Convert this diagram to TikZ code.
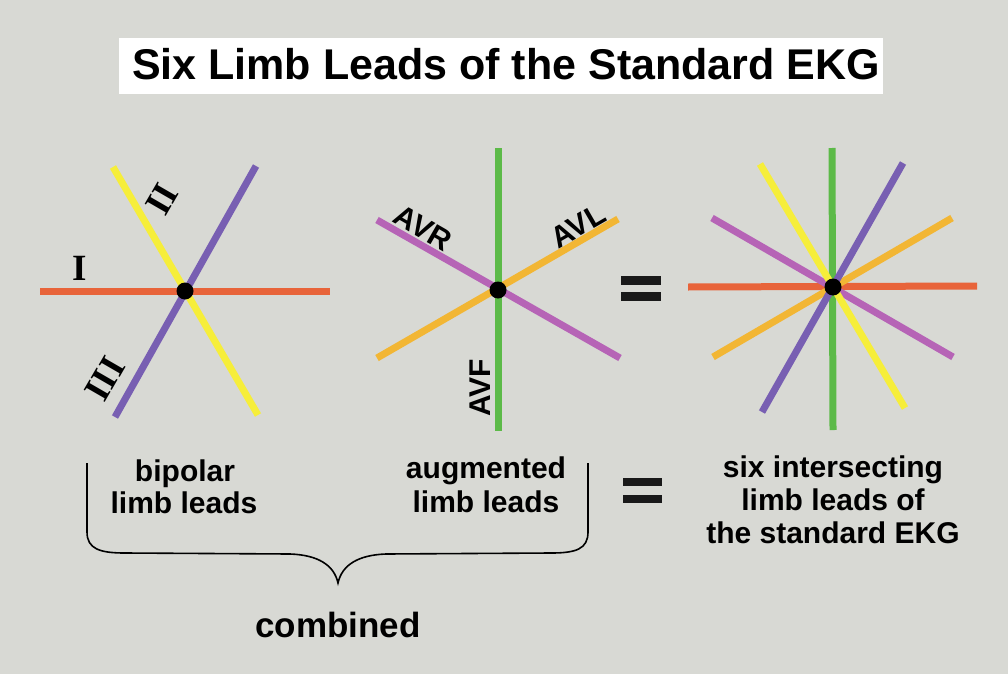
\documentclass[tikz,border=0pt]{standalone}
\usepackage{fontspec}
\setmainfont{Liberation Sans}
\newfontfamily\romanfont{Liberation Serif}
\definecolor{bg}{RGB}{216,217,212}
\definecolor{leadI}{RGB}{232,100,58}
\definecolor{leadII}{RGB}{120,95,178}
\definecolor{leadIII}{RGB}{246,238,58}
\definecolor{leadR}{RGB}{182,100,182}
\definecolor{leadL}{RGB}{242,182,52}
\definecolor{leadF}{RGB}{92,186,72}
\begin{document}
\begin{tikzpicture}[x=1pt,y=-1pt,
  lead/.style={line width=7pt},
  hub/.style={fill=black},
  lbl/.style={font=\fontsize{30}{33}\selectfont\bfseries, inner sep=0pt, anchor=base},
  axlbl/.style={font=\fontsize{30}{33}\selectfont\bfseries, inner sep=0pt},
  roman/.style={font=\fontsize{37}{39}\selectfont\romanfont\bfseries, inner sep=0pt},
  eqbar/.style={fill=black!90}]
\useasboundingbox (0,0) rectangle (1008,674);
\fill[bg] (0,0) rectangle (1008,674);
% title
\fill[white] (119,38) rectangle (883,94);
\node[inner sep=0pt, anchor=base, font=\fontsize{43}{45}\selectfont\bfseries] (title) at (506,80) {Six Limb Leads of the Standard EKG};
% ---- left: bipolar
\coordinate (L) at (185,291);
\draw[lead, leadI] (40,291) -- (330,291);
\draw[lead, leadIII] (113,167) -- (258,415);
\draw[lead, leadII] (256,166) -- (115,417);
\fill[hub] (L) circle[radius=8.5pt];
\node[roman] (tI) at (80,268) {I};
\node[roman, rotate=60] (tII) at (162,199) {II};
\node[roman, rotate=60] (tIII) at (105,379) {III};
% ---- middle: augmented
\coordinate (M) at (498,290);
\draw[lead, leadR] (377,220) -- (620,358);
\draw[lead, leadL] (377,358) -- (618,219);
\draw[lead, leadF] (498,148) -- (498,431);
\fill[hub] (M) circle[radius=8.5pt];
\node[axlbl, rotate=-30] (tAVR) at (423,228) {AVR};
\node[axlbl, rotate=30] (tAVL) at (578,226) {AVL};
\node[axlbl, rotate=90] (tAVF) at (480,388) {AVF};
% equals (top)
\fill[eqbar] (621,276) rectangle (661,285);
\fill[eqbar] (621,292) rectangle (661,301);
% ---- right: combined
\coordinate (R) at (833,287);
\draw[lead, leadF] (832,148) -- (833,430);
\draw[lead, leadI] (688,287) -- (977,286);
\draw[lead, leadR] (712,218) -- (953,357);
\draw[lead, leadL] (713,357) -- (952,218);
\draw[lead, leadIII] (760,164) -- (905,408);
\draw[lead, leadII] (903,163) -- (762,412);
\fill[hub] (R) circle[radius=8.5pt];
% ---- lower texts
\node[lbl] (b1) at (185,481) {bipolar};
\node[lbl] (b2) at (184,513) {limb leads};
\node[lbl] (a1) at (486,478) {augmented};
\node[lbl] (a2) at (486,512) {limb leads};
\node[lbl] (s1) at (833,477) {six intersecting};
\node[lbl] (s2) at (833,510) {limb leads of};
\node[lbl] (s3) at (833,543) {the standard EKG};
% equals (bottom)
\fill[eqbar] (623,478) rectangle (662,486);
\fill[eqbar] (623,495) rectangle (662,503);
% brace
\coordinate (brL) at (87,463);
\coordinate (brR) at (588,463);
\coordinate (brT) at (338,583);
\draw[line width=1.6pt] (brL) -- (87,532)
  .. controls (87,549) and (100,553) .. (125,553)
  -- (290,554) .. controls (318,555) and (334,565) .. (brT)
  .. controls (342,565) and (358,555) .. (386,554)
  -- (551,553) .. controls (576,553) and (588,549) .. (588,532) -- (brR);
\node[inner sep=0pt, anchor=base, font=\fontsize{35}{38}\selectfont\bfseries] (comb) at (338,637) {combined};
\end{tikzpicture}
\end{document}
